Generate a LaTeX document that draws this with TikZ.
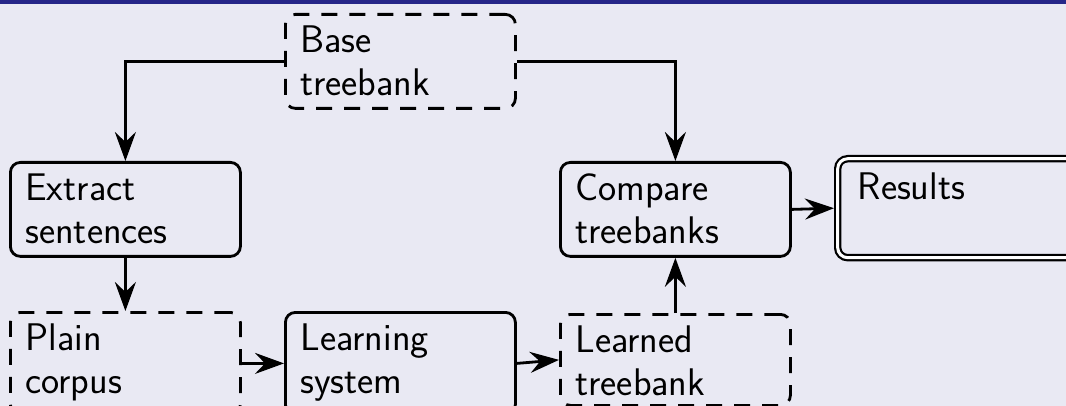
\documentclass[tikz,border=0pt]{standalone}
\usepackage{fontspec}
\usetikzlibrary{arrows.meta}

\definecolor{slidebg}{RGB}{233,233,243}
\definecolor{titlebar}{RGB}{38,38,136}

\tikzset{
  stage/.style={draw=black, line width=2.8pt, rounded corners=10pt,
    anchor=north west, text width=200pt, align=left,
    inner xsep=14pt, inner ysep=7pt, text height=31pt, text depth=49pt,
    minimum width=230pt, font=\sffamily\fontsize{38.5}{43}\selectfont},
  data/.style={stage, dash pattern=on 16pt off 12pt},
  final/.style={stage, double, double distance=3pt, line width=2.2pt,
    inner xsep=17pt, inner ysep=9pt, text height=32pt, text depth=49pt,
    text width=220pt, minimum width=260pt, outer sep=3.7pt},
  flow/.style={line width=2.8pt,
    -{Stealth[length=29pt,width=21pt,inset=10pt]}}
}

\begin{document}
\begin{tikzpicture}[x=1pt,y=-1pt]
  \useasboundingbox (0,0) rectangle (1066,406);
  \clip (0,0) rectangle (1066,406);
  % slide background and title bar edge
  \fill[slidebg] (0,0) rectangle (1066,406);
  \fill[titlebar] (0,0) rectangle (1066,4.5);

  % processing stages and data sets
  \node[data]  (base)     at (284,13)  {Base\\treebank};
  \node[stage] (extract)  at (9,161)   {Extract\\sentences};
  \node[data, text depth=57pt]  (plain)    at (9,311)   {Plain\\corpus};
  \node[stage, text depth=57pt] (learning) at (284,311) {Learning\\system};
  \node[data, text depth=46pt] (learned) at (559,313) {Learned\\treebank};
  \node[stage] (compare)  at (559,161) {Compare\\treebanks};
  \node[final] (results)  at (834,155) {Results};

  % data flow
  \draw[flow] (base.west) -| (extract.north);
  \draw[flow] (base.east) -| (compare.north);
  \draw[flow] (extract.south) -- (plain.north);
  \draw[flow] (plain.east |- learning.west) -- (learning.west);
  \draw[flow] (learning.east) -- (learned.west);
  \draw[flow] (learned.north) -- (compare.south);
  \draw[flow] (compare.east) -- (results.west);
\end{tikzpicture}
\end{document}
